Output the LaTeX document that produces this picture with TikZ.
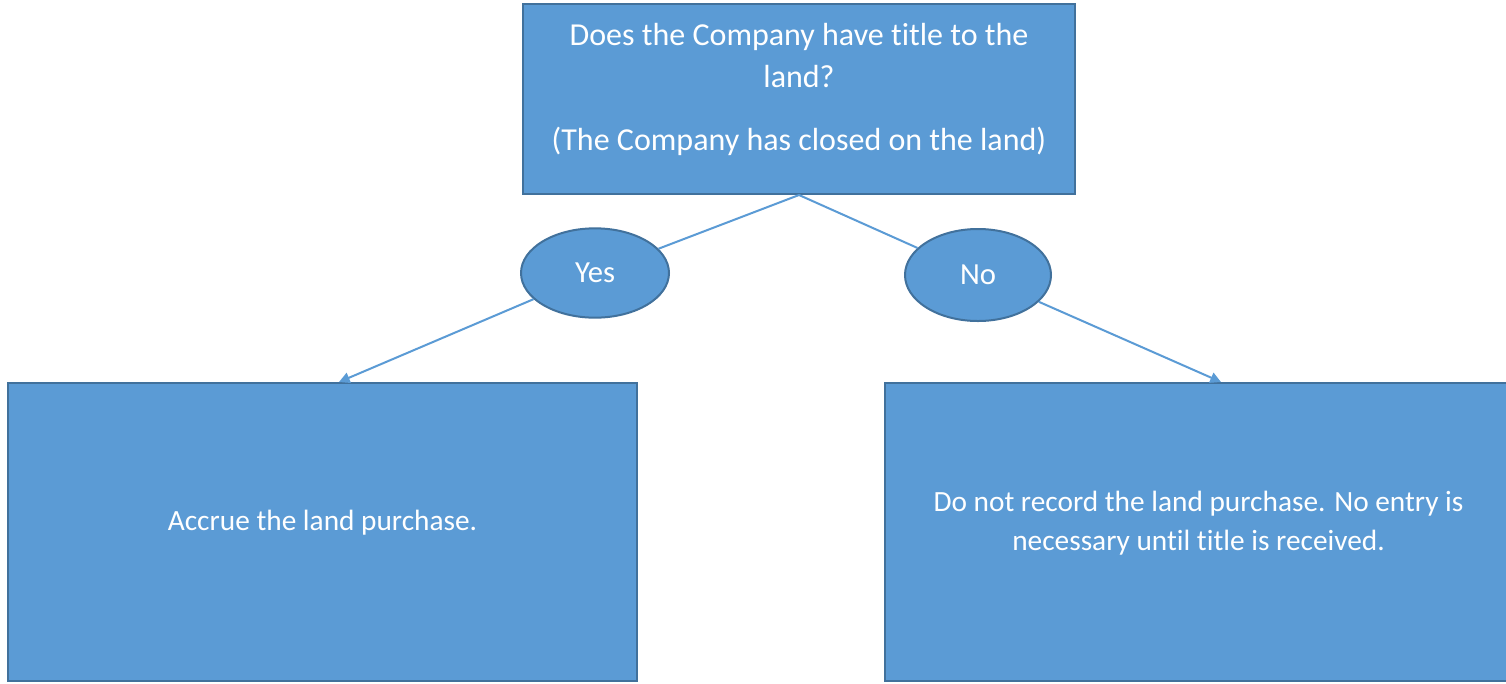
\documentclass[tikz,border=0pt]{standalone}
\usepackage{fontspec}
\setmainfont{Carlito}[Ligatures=NoCommon]
\usepackage{xcolor}
\usetikzlibrary{shapes.geometric,arrows.meta}

\definecolor{boxfill}{HTML}{5B9BD5}
\definecolor{boxline}{HTML}{41719C}

\tikzset{
  decision/.style={draw=boxline, fill=boxfill, line width=1.5pt, text=white,
    align=center, inner sep=0pt, text depth=18pt, font=\fontsize{24}{31.5}\selectfont},
  answer/.style={ellipse, draw=boxline, fill=boxfill, line width=1.5pt,
    text=white, inner sep=0pt, font=\fontsize{23}{28}\selectfont},
  outcome/.style={decision, text depth=17pt, font=\fontsize{22}{29}\selectfont},
  flow/.style={draw=boxfill, line width=1.5pt},
}

\begin{document}
\begin{tikzpicture}[x=0.75pt, y=-0.75pt]
  \useasboundingbox[fill=white] (0,0) rectangle (1506,683);
  % Define nodes
  \node[decision, minimum width=414pt, minimum height=142.5pt] (title) at (799,99)
    {Does the Company have title to the\\land?\\[16pt](The Company has closed on the land)};
  \node[answer, minimum width=111pt, minimum height=67pt] (yes) at (595,273) {Yes};
  \node[answer, minimum width=109.5pt, minimum height=69pt] (no) at (978,275) {No};
  \node[outcome, minimum width=471.75pt, minimum height=223.5pt] (accrue) at (322.5,532)
    {Accrue the land purchase.};
  \node[outcome, minimum width=470.25pt, minimum height=223.5pt] (norecord) at (1198.5,532)
    {Do not record the land purchase. No entry is\\necessary until title is received.};
  \path (accrue.north west) ++(332,0) coordinate (yesin);
  \path (norecord.north west) ++(337,0) coordinate (noin);
  % Connectors
  \draw[flow] (title.south) -- (yes);
  \draw[flow] (title.south) -- (no);
  \draw[flow, -{Triangle[length=8pt,width=8pt]}] (yes) -- (yesin);
  \draw[flow, -{Triangle[length=8pt,width=8pt]}] (no) -- (noin);
\end{tikzpicture}
\end{document}
